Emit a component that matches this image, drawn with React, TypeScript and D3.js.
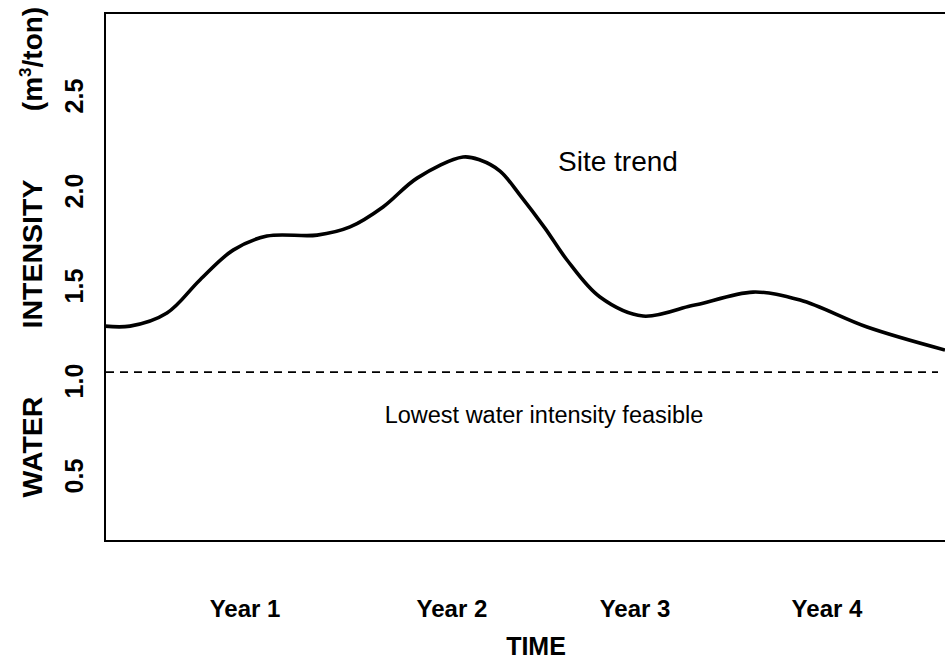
import React from "react";
import * as d3 from "d3";

// time in years from the left edge of the frame, intensity in m3/ton
const trendTime = [0, 0.119, 0.295, 0.452, 0.61, 0.771, 1.01, 1.167, 1.324, 1.486, 1.705, 1.786, 1.881, 1.976, 2.095, 2.2, 2.357, 2.562, 2.786, 2.833, 3.086, 3.31, 3.629, 4.0];
const trendValue = [1.289, 1.289, 1.358, 1.532, 1.689, 1.763, 1.768, 1.811, 1.916, 2.068, 2.179, 2.163, 2.105, 1.979, 1.805, 1.637, 1.442, 1.342, 1.395, 1.405, 1.468, 1.426, 1.284, 1.163];

const yearLabels = ["Year 1", "Year 2", "Year 3", "Year 4"];
const yearTimes = [0.667, 1.652, 2.524, 3.438];

const yTicks = [0.5, 1.0, 1.5, 2.0, 2.5];
const lowestFeasible = 1.047;

const W = 945;
const H = 659;
const box = { left: 105, right: 946, top: 13, bottom: 541 };
const font = "'Liberation Sans', Arial, Helvetica, sans-serif";

export default function App() {
  const x = d3.scaleLinear().domain([0, 4]).range([box.left, box.left + 840]);
  const y = d3.scaleLinear().domain([0.158, 2.937]).range([box.bottom, box.top]);

  const line = d3
    .line<number>()
    .x((_, i) => x(trendTime[i]))
    .y((d) => y(d))
    .curve(d3.curveCatmullRom.alpha(0.5));

  return (
    <svg
      width={W}
      height={H}
      style={{ position: "absolute", left: 0, top: 0, background: "#fff" }}
      fontFamily={font}
    >
      <rect
        x={box.left}
        y={box.top}
        width={box.right - box.left}
        height={box.bottom - box.top}
        fill="none"
        stroke="#000"
        strokeWidth={2}
      />

      {/* lowest feasible intensity */}
      <line
        x1={box.left + 1}
        x2={938}
        y1={y(lowestFeasible)}
        y2={y(lowestFeasible)}
        stroke="#000"
        strokeWidth={1.6}
        strokeDasharray="8,6"
      />
      <text x={544} y={423} fontSize={23.5} textAnchor="middle" fill="#000">
        Lowest water intensity feasible
      </text>

      <path d={line(trendValue) ?? ""} fill="none" stroke="#000" strokeWidth={3.6} strokeLinejoin="round" />
      <text x={618} y={171} fontSize={28} textAnchor="middle" fill="#000">
        Site trend
      </text>

      {/* y tick labels, rotated */}
      {yTicks.map((t) => (
        <text
          key={t}
          transform={`translate(83,${y(t)}) rotate(-90)`}
          textAnchor="middle"
          fontSize={25}
          fontWeight="bold"
        >
          {t.toFixed(1)}
        </text>
      ))}

      {/* y axis title */}
      <text transform="translate(42,447) rotate(-90)" textAnchor="middle" fontSize={28.5} fontWeight="bold">
        WATER
      </text>
      <text transform="translate(42,254) rotate(-90)" textAnchor="middle" fontSize={28.5} fontWeight="bold">
        INTENSITY
      </text>
      <text transform="translate(42,59) rotate(-90)" textAnchor="middle" fontSize={28} fontWeight="bold">
        (m<tspan fontSize={17} dy={-11}>3</tspan>
        <tspan dy={11}>/ton)</tspan>
      </text>

      {/* x labels */}
      {yearLabels.map((lab, i) => (
        <text key={lab} x={x(yearTimes[i])} y={617} textAnchor="middle" fontSize={24} fontWeight="bold">
          {lab}
        </text>
      ))}
      <text x={536} y={655} textAnchor="middle" fontSize={25} fontWeight="bold">
        TIME
      </text>
    </svg>
  );
}
